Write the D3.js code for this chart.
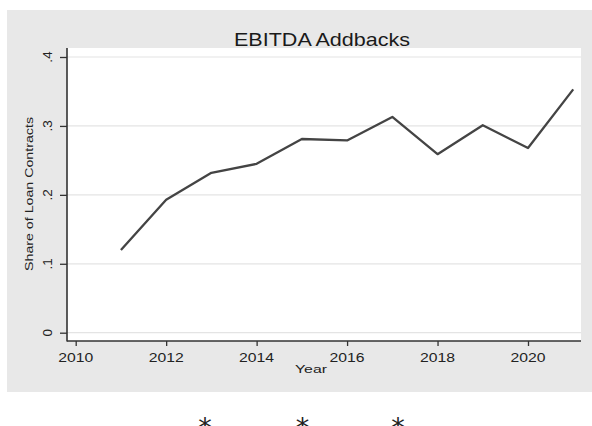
<!DOCTYPE html>
<html><head><meta charset="utf-8">
<script src="https://cdn.jsdelivr.net/npm/d3@7"></script>
<style>html,body{margin:0;padding:0;background:#fff;}svg{display:block;}</style>
</head><body>
<script>
const years = [2011,2012,2013,2014,2015,2016,2017,2018,2019,2020,2021];
const shares = [0.120,0.193,0.232,0.245,0.281,0.279,0.313,0.259,0.301,0.268,0.353];
const xTicks = [2010,2012,2014,2016,2018,2020];
const yTicks = [0,0.1,0.2,0.3,0.4];
const yTickLabels = ["0",".1",".2",".3",".4"];
const title = "EBITDA Addbacks";
const xTitle = "Year";
const yTitle = "Share of Loan Contracts";
const footnoteMarks = ["*","*","*"];

const W=592,H=426;
const svg=d3.select("body").append("svg").attr("width",W).attr("height",H);
const font="'Liberation Sans', Arial, sans-serif";

// outer graph region
svg.append("rect").attr("x",7).attr("y",10).attr("width",W-7).attr("height",382).attr("fill","#e8e8e8");
// plot region
const pl=67,pr=581,pt=48,pb=341;
svg.append("rect").attr("x",pl).attr("y",pt).attr("width",pr-pl).attr("height",pb-pt).attr("fill","#ffffff");

const x=d3.scaleLinear().domain([2010,2020]).range([75.7,528]);
const y=d3.scaleLinear().domain([0,0.4]).range([332.7,57]);

// gridlines
svg.append("g").selectAll("line").data(yTicks).join("line")
  .attr("x1",pl).attr("x2",pr).attr("y1",d=>y(d)).attr("y2",d=>y(d))
  .attr("stroke","#e4e4e4").attr("stroke-width",1.2);

// line
svg.append("path").datum(years.map((yr,i)=>[yr,shares[i]]))
  .attr("fill","none").attr("stroke","#444444").attr("stroke-width",2.3)
  .attr("stroke-linejoin","round")
  .attr("d",d3.line().x(d=>x(d[0])).y(d=>y(d[1])));

// axes
const yAxis=d3.axisLeft(y).tickValues(yTicks).tickSize(7).tickFormat("");
const gy=svg.append("g").attr("transform",`translate(${pl},0)`).call(yAxis);
gy.select(".domain").remove();
gy.selectAll(".tick line").attr("stroke","#333").attr("stroke-width",1.3);
const xAxis=d3.axisBottom(x).tickValues(xTicks).tickSize(5).tickFormat("");
const gx=svg.append("g").attr("transform",`translate(0,${pb})`).call(xAxis);
gx.select(".domain").remove();
gx.selectAll(".tick line").attr("stroke","#333").attr("stroke-width",1.3);
svg.append("line").attr("x1",pl).attr("x2",pl).attr("y1",pt).attr("y2",pb+0.5).attr("stroke","#333").attr("stroke-width",1.6);
svg.append("line").attr("x1",pl).attr("x2",pr).attr("y1",pb).attr("y2",pb).attr("stroke","#333").attr("stroke-width",1.6);

// x tick labels
svg.append("g").selectAll("text").data(xTicks).join("text")
  .attr("x",d=>x(d)).attr("y",362).attr("text-anchor","middle")
  .attr("font-family",font).attr("font-size",13).attr("fill","#222")
  .attr("textLength",35).attr("lengthAdjust","spacingAndGlyphs")
  .text(d=>d);
// y tick labels (rotated)
svg.append("g").selectAll("text").data(yTicks).join("text")
  .attr("transform",d=>`translate(52,${y(d)}) rotate(-90)`)
  .attr("text-anchor","middle")
  .attr("font-family",font).attr("font-size",13.5).attr("fill","#222")
  .text((d,i)=>yTickLabels[i]);

// titles
svg.append("text").attr("x",322).attr("y",46).attr("text-anchor","middle")
  .attr("font-family",font).attr("font-size",18.5).attr("fill","#1a1a1a")
  .attr("textLength",176).attr("lengthAdjust","spacingAndGlyphs").text(title);
svg.append("text").attr("x",311).attr("y",373).attr("text-anchor","middle")
  .attr("font-family",font).attr("font-size",11).attr("fill","#222")
  .attr("textLength",32).attr("lengthAdjust","spacingAndGlyphs").text(xTitle);
svg.append("text").attr("transform",`translate(33,194) rotate(-90)`).attr("text-anchor","middle")
  .attr("font-family",font).attr("font-size",11).attr("fill","#222")
  .attr("textLength",154).attr("lengthAdjust","spacingAndGlyphs").text(yTitle);

// footnote asterisks
const markX=[205,302.5,398];
svg.append("g").selectAll("text").data(footnoteMarks).join("text")
  .attr("x",(d,i)=>markX[i]).attr("y",437).attr("text-anchor","middle")
  .attr("font-family","'DejaVu Sans', sans-serif").attr("font-size",27)
  .attr("fill","#222")
  .text(d=>d);
</script>
</body></html>
